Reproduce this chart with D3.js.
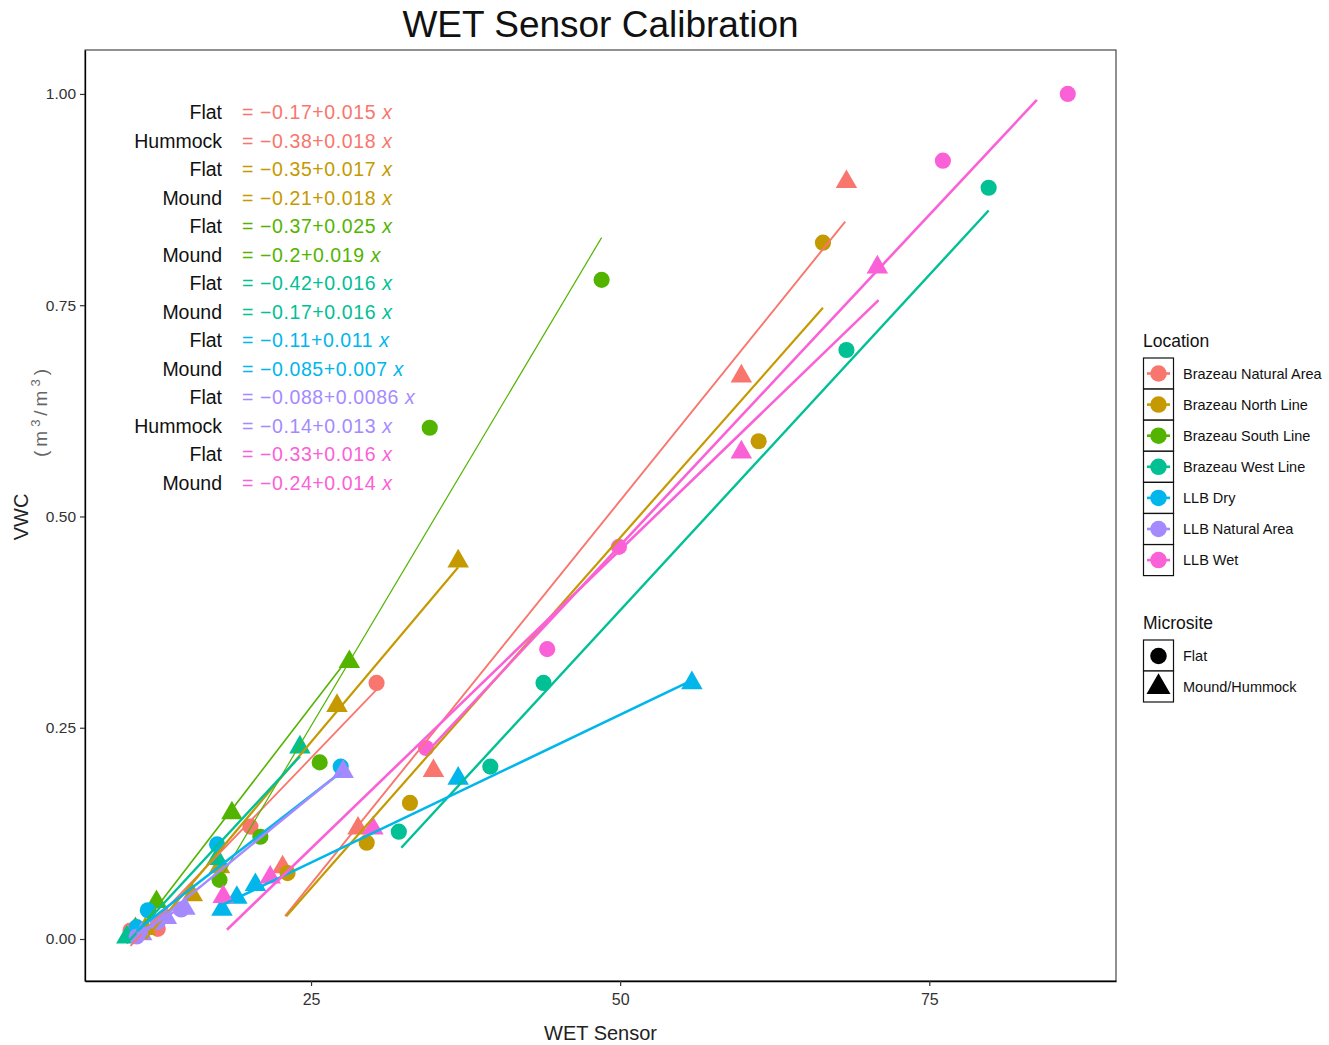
<!DOCTYPE html>
<html><head><meta charset="utf-8">
<script src="https://cdn.jsdelivr.net/npm/d3@7"></script>
<style>
body{margin:0;background:#fff;}
text{font-family:"Liberation Sans",Arial,sans-serif;}
</style>
</head><body>
<svg id="chart" width="1329" height="1045"></svg>
<script>
// ---------------- DATA ----------------
const locations = ["Brazeau Natural Area","Brazeau North Line","Brazeau South Line","Brazeau West Line","LLB Dry","LLB Natural Area","LLB Wet"];
const microsites = ["Flat","Mound/Hummock"];
const xTicks = [25, 50, 75];
const yTicks = [0.00, 0.25, 0.50, 0.75, 1.00];

// observations: location index, microsite index (0 Flat, 1 Mound/Hummock), sensor reading, VWC
const pointLocation = [
  0,0,0,0, 0,0,0,0,0,
  1,1,1,1,1, 1,1,1,1,1,
  2,2,2,2,2, 2,2,2,2,
  3,3,3,3,3, 3,3,3,
  4,4,4,4, 4,4,4,4,4,
  5,5,5, 5,5,5,5,
  6,6,6,6,6, 6,6,6,6,6
];
const pointMicrosite = [
  0,0,0,0, 1,1,1,1,1,
  0,0,0,0,0, 1,1,1,1,1,
  0,0,0,0,0, 1,1,1,1,
  0,0,0,0,0, 1,1,1,
  0,0,0,0, 1,1,1,1,1,
  0,0,0, 1,1,1,1,
  0,0,0,0,0, 1,1,1,1,1
];
const pointX = [
  30.3,20.1,12.6,10.4, 68.3,59.8,34.9,28.8,22.7,
  66.4,61.2,33.0,29.5,23.1, 36.9,27.1,17.6,15.4,11.6,
  48.5,34.6,25.7,20.9,17.6, 28.1,18.6,12.5,10.8,
  79.8,68.3,43.8,39.5,32.1, 24.1,17.4,10.1,
  27.4,17.4,11.8,10.9, 55.8,36.9,20.5,19.0,17.8,
  14.5,12.6,10.9, 27.6,14.8,13.3,11.3,
  86.2,76.1,49.9,44.1,34.3, 70.8,59.8,30.0,21.7,17.9
];
const pointY = [
  0.303,0.133,0.012,0.010, 0.896,0.666,0.199,0.131,0.085,
  0.824,0.589,0.161,0.114,0.078, 0.447,0.276,0.085,0.052,0.012,
  0.780,0.605,0.209,0.121,0.070, 0.328,0.149,0.044,0.012,
  0.889,0.697,0.303,0.204,0.127, 0.227,0.095,0.002,
  0.204,0.112,0.034,0.014, 0.303,0.190,0.064,0.049,0.035,
  0.035,0.020,0.003, 0.198,0.036,0.025,0.006,
  1.000,0.921,0.464,0.343,0.226, 0.795,0.576,0.131,0.073,0.050
];

// fitted lines (one per location x microsite), with the printed equation
const fitLocation  = [0,0,1,1,2,2,3,3,4,4,5,5,6,6];
const fitLabel     = ["Flat","Hummock","Flat","Mound","Flat","Mound","Flat","Mound","Flat","Mound","Flat","Hummock","Flat","Mound"];
const fitIntercept = [-0.17,-0.38,-0.35,-0.21,-0.37,-0.2,-0.42,-0.17,-0.11,-0.085,-0.088,-0.14,-0.33,-0.24];
const fitSlope     = [0.015,0.018,0.017,0.018,0.025,0.019,0.016,0.016,0.011,0.007,0.0086,0.013,0.016,0.014];
const fitX0 = [10.4,22.9,23.0,11.6,17.6,10.8,32.3,10.1,10.9,17.8,10.9,11.3,34.3,18.2];
const fitY0 = [-0.008,0.027,0.027,0.000,0.070,0.005,0.108,-0.005,0.010,0.040,0.006,0.005,0.220,0.011];
const fitX1 = [30.3,68.2,66.4,36.9,48.5,28.1,79.8,24.1,27.4,55.8,14.5,27.6,83.7,70.9];
const fitY1 = [0.295,0.849,0.747,0.440,0.830,0.334,0.862,0.216,0.197,0.306,0.037,0.200,0.993,0.756];

// ---------------- STYLE ----------------
const palette = ["#F8766D","#C49A00","#53B400","#00C094","#00B6EB","#A58AFF","#FB61D7"];
const lineWidths = [1.8,1.9,2.2,2.2,1.2,1.6,2.4,2.4,2.6,2.6,2.4,2.4,2.6,2.6];
const circleSize = 205, triangleSize = 200;

const svg = d3.select("#chart");
const P = {left:85, right:1116, top:50, bottom:981};

const x = d3.scaleLinear().domain([6.72, 90.1]).range([P.left, P.right]);
const y = d3.scaleLinear().domain([-0.0497, 1.052]).range([P.bottom, P.top]);

svg.append("rect").attr("width",1329).attr("height",1045).attr("fill","#fff");

// title
svg.append("text").attr("x",(P.left+P.right)/2).attr("y",37)
  .attr("text-anchor","middle").attr("font-size",37).attr("fill","#111")
  .text("WET Sensor Calibration");

// panel
svg.append("rect").attr("x",P.left).attr("y",P.top)
  .attr("width",P.right-P.left).attr("height",P.bottom-P.top)
  .attr("fill","#fff").attr("stroke","#222").attr("stroke-width",1);

svg.append("clipPath").attr("id","pclip").append("rect")
  .attr("x",P.left).attr("y",P.top).attr("width",P.right-P.left).attr("height",P.bottom-P.top);

// axes
const xAxis = d3.axisBottom(x).tickValues(xTicks).tickSize(5).tickSizeOuter(0).tickPadding(8).tickFormat(d3.format("d"));
const gx = svg.append("g").attr("transform",`translate(0,${P.bottom})`).call(xAxis);
gx.select(".domain").attr("stroke","#000").attr("stroke-width",1.3);
gx.selectAll(".tick line").attr("stroke","#333").attr("stroke-width",1.2);
gx.selectAll(".tick text").attr("font-size",16).attr("fill","#333");

const yAxis = d3.axisLeft(y).tickValues(yTicks).tickSize(5).tickSizeOuter(0).tickPadding(4).tickFormat(d3.format(".2f"));
const gy = svg.append("g").attr("transform",`translate(${P.left},0)`).call(yAxis);
gy.select(".domain").attr("stroke","#000").attr("stroke-width",1.3);
gy.selectAll(".tick line").attr("stroke","#333").attr("stroke-width",1.2);
gy.selectAll(".tick text").attr("font-size",15.5).attr("fill","#333");

// axis titles
svg.append("text").attr("x",(P.left+P.right)/2).attr("y",1040)
  .attr("text-anchor","middle").attr("font-size",20).attr("fill","#222").text("WET Sensor");
svg.append("text").attr("transform","translate(28,517) rotate(-90)")
  .attr("text-anchor","middle").attr("font-size",20).attr("fill","#222").text("VWC");
const unit = svg.append("text").attr("transform","translate(47,413) rotate(-90)")
  .attr("text-anchor","middle").attr("font-size",19).attr("fill","#666")
  .attr("font-family","'Liberation Serif','DejaVu Serif',serif")
  .attr("textLength",88).attr("lengthAdjust","spacing");
unit.append("tspan").text("(m");
unit.append("tspan").attr("dy",-7).attr("font-size",13).text("3");
unit.append("tspan").attr("dy",7).text("/m");
unit.append("tspan").attr("dy",-7).attr("font-size",13).text("3");
unit.append("tspan").attr("dy",7).text(")");

// points
const plot = svg.append("g").attr("clip-path","url(#pclip)");
const pts = pointX.map((v,i)=>({x:v,y:pointY[i],loc:pointLocation[i],m:pointMicrosite[i]}));
plot.append("g").selectAll("path").data(pts).join("path")
  .attr("transform",d=>`translate(${x(d.x)},${y(d.y)})`)
  .attr("d",d=>d3.symbol().type(d.m===0?d3.symbolCircle:d3.symbolTriangle).size(d.m===0?circleSize:triangleSize)())
  .attr("fill",d=>palette[d.loc]);

// fitted lines
const line = d3.line().x(d=>x(d[0])).y(d=>y(d[1]));
plot.append("g").selectAll("path").data(fitX0.map((v,i)=>i)).join("path")
  .attr("d",i=>line([[fitX0[i],fitY0[i]],[fitX1[i],fitY1[i]]]))
  .attr("fill","none").attr("stroke",i=>palette[fitLocation[i]])
  .attr("stroke-width",i=>lineWidths[i]);

// equation labels
const eq = svg.append("g");
fitLabel.forEach((lab,i)=>{
  const cy = 112 + 28.5*i;
  eq.append("text").attr("x",222).attr("y",cy+7).attr("text-anchor","end")
    .attr("font-size",19.5).attr("fill","#111").text(lab);
  const t = eq.append("text").attr("x",242).attr("y",cy+7).attr("font-size",19.5)
    .attr("letter-spacing",0.6).attr("fill",palette[fitLocation[i]]);
  const b = fitIntercept[i];
  t.append("tspan").text("= " + (b<0?"\u2212":"") + String(Math.abs(b)) + "+" + String(fitSlope[i]) + " ");
  t.append("tspan").attr("font-style","italic").text("x");
});

// legends
const lg = svg.append("g");
lg.append("text").attr("x",1143).attr("y",347).attr("font-size",17.5).attr("fill","#111").text("Location");
locations.forEach((name,i)=>{
  const ky = 358 + 31.1*i;
  lg.append("rect").attr("x",1143.5).attr("y",ky).attr("width",30).attr("height",31)
    .attr("fill","#fff").attr("stroke","#111").attr("stroke-width",1.2);
  lg.append("line").attr("x1",1147).attr("x2",1170).attr("y1",ky+15.5).attr("y2",ky+15.5)
    .attr("stroke",palette[i]).attr("stroke-width",2.6);
  lg.append("path").attr("transform",`translate(1158.5,${ky+15.5})`)
    .attr("d",d3.symbol().type(d3.symbolCircle).size(215)()).attr("fill",palette[i]);
  lg.append("text").attr("x",1183).attr("y",ky+20.5).attr("font-size",14.5).attr("fill","#111").text(name);
});
lg.append("text").attr("x",1143).attr("y",629).attr("font-size",17.5).attr("fill","#111").text("Microsite");
microsites.forEach((name,i)=>{
  const ky = 640 + 31*i;
  lg.append("rect").attr("x",1143.5).attr("y",ky).attr("width",30).attr("height",31)
    .attr("fill","#fff").attr("stroke","#111").attr("stroke-width",1.2);
  lg.append("path").attr("transform",`translate(1158.5,${ky+16})`)
    .attr("d",d3.symbol().type(i===0?d3.symbolCircle:d3.symbolTriangle).size(i===0?215:250)()).attr("fill","#000");
  lg.append("text").attr("x",1183).attr("y",ky+20.5).attr("font-size",14.5).attr("fill","#111").text(name);
});
</script>
</body></html>
